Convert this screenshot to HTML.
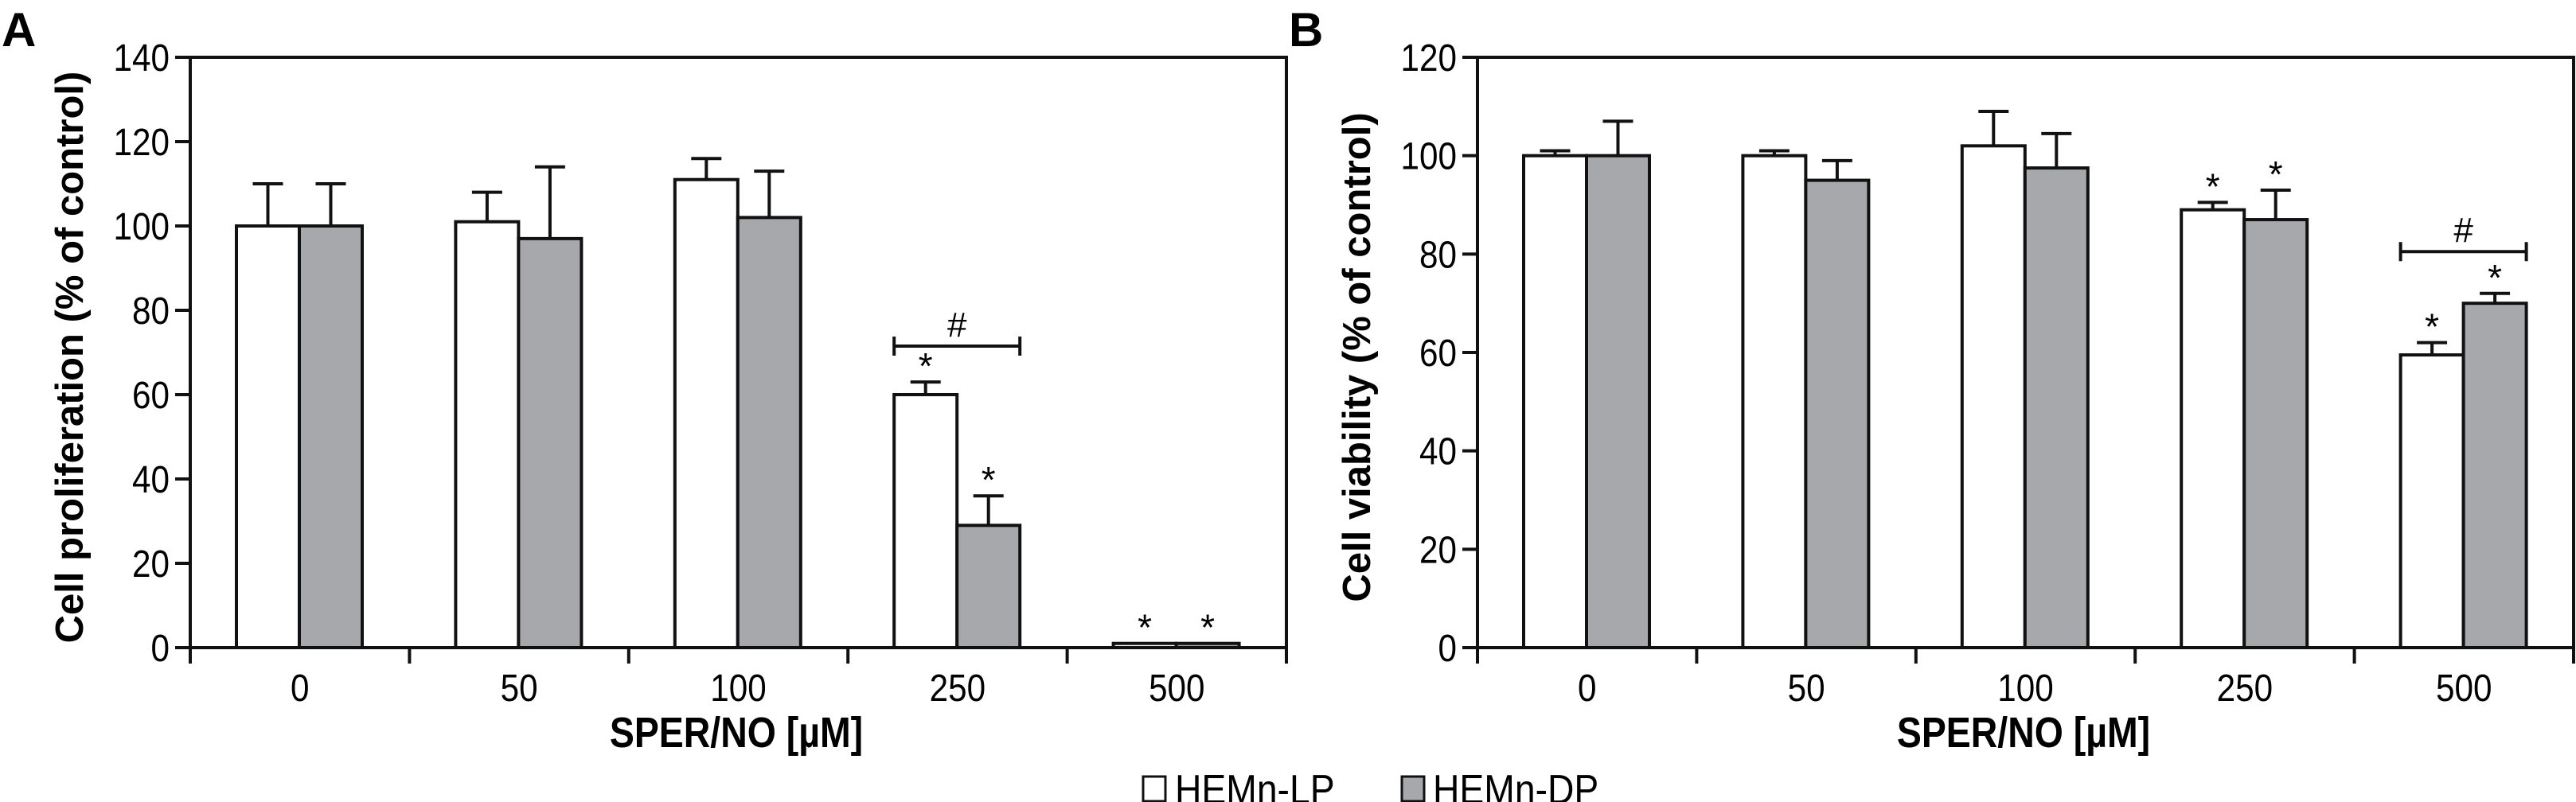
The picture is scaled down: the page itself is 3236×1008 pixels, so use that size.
<!DOCTYPE html>
<html><head><meta charset="utf-8"><style>
html,body{margin:0;padding:0;background:#fff;}
svg{display:block;font-family:"Liberation Sans",sans-serif;}
</style></head><body>
<svg id="fig" width="3236" height="1008" viewBox="0 0 3236 1008" xmlns="http://www.w3.org/2000/svg"></svg>
<script>
const categories = ["0","50","100","250","500"];
const aLP = [100,101,111,60,1];
const aLPerr = [10,7,5,3,0];
const aDP = [100,97,102,29,1];
const aDPerr = [10,17,11,7,0];
const aTicks = [0,20,40,60,80,100,120,140];
const bLP = [100,100,102,89,59.5];
const bLPerr = [1,1,7,1.5,2.5];
const bDP = [100,95,97.5,87,70];
const bDPerr = [7,4,7,6,2];
const bTicks = [0,20,40,60,80,100,120];

const NS="http://www.w3.org/2000/svg";
const svg=document.getElementById('fig');
function mk(tag,attrs,parent){const e=document.createElementNS(NS,tag);for(const k in attrs)e.setAttribute(k,attrs[k]);(parent||svg).appendChild(e);return e;}

function panel(ox,letter,title,LP,LPe,DP,DPe,ticks,ymax,starsLP,starsDP,bracketIdx,bracketVal){
  const g=mk('g',{});
  
  
  const L=ox+239,R=ox+1616,T=72,B=814,cw=(R-L)/categories.length;
  const y=v=>B-(v/ymax)*(B-T);
  const xc=i=>L+i*cw;
  let t=mk('text',{x:ox+2,y:58,'font-size':60,'font-weight':'bold'},g);t.textContent=letter;
  
  
  for(let i=0;i<categories.length;i++){
    const x0=xc(i)+58,w=79;
    [[LP,LPe,'#ffffff',x0,'lp'],[DP,DPe,'#a7a8ab',x0+w,'dp']].forEach(([arr,err,fill,bx,nm])=>{
      const v=arr[i];
      if(err[i]>0){
        const l=mk('line',{x1:bx+w/2,x2:bx+w/2,y1:y(v),y2:y(v+err[i]),stroke:'#111','stroke-width':4},g);
        
        
        const c=mk('line',{x1:bx+w/2-19,x2:bx+w/2+19,y1:y(v+err[i]),y2:y(v+err[i]),stroke:'#111','stroke-width':4},g);
        
        
      }
      const r=mk('rect',{x:bx,y:y(v),width:w,height:B-y(v),fill:fill,stroke:'#111','stroke-width':4},g);
      
      
      const st=(nm=='lp'?starsLP:starsDP);
      if(st.includes(i)){
        const s=mk('text',{x:bx+w/2,y:y(v+err[i])-4,'font-size':46,'text-anchor':'middle'},g);s.textContent='*';
        
        
      }
    });
  }
  const bx1=xc(bracketIdx)+58,bx2=bx1+158,by=y(bracketVal);
  const br=mk('path',{d:`M${bx1} ${by-12}V${by+12}M${bx1} ${by}H${bx2}M${bx2} ${by-12}V${by+12}`,stroke:'#111','stroke-width':4,fill:'none'},g);
  
  
  const h=mk('text',{x:(bx1+bx2)/2,y:by-12,'font-size':44,'text-anchor':'middle'},g);h.textContent='#';
  
  
  const f=mk('path',{d:`M${L} ${T}H${R}V${B}H${L}Z`,stroke:'#111','stroke-width':4,fill:'none'},g);
  
  
  ticks.forEach(v=>{
    const tl=mk('line',{x1:L-19,x2:L,y1:y(v),y2:y(v),stroke:'#111','stroke-width':4},g);
    
    
    const tx=mk('text',{x:L-26,y:y(v)+17,'font-size':48,'text-anchor':'end',transform:`translate(${L-26} 0) scale(0.88 1) translate(${-(L-26)} 0)`},g);tx.textContent=v;
    
    
  });
  for(let i=0;i<=categories.length;i++){
    const tl=mk('line',{x1:xc(i),x2:xc(i),y1:B,y2:B+20,stroke:'#111','stroke-width':4},g);
    
    
  }
  categories.forEach((c,i)=>{
    const cx=xc(i)+cw/2;
    const tx=mk('text',{x:cx,y:881,'font-size':48,'text-anchor':'middle',transform:`translate(${cx} 0) scale(0.88 1) translate(${-cx} 0)`},g);tx.textContent=c;
    
    
  });
  const xt=mk('text',{x:ox+925,y:939,'font-size':54,'font-weight':'bold','text-anchor':'middle',transform:`translate(${ox+925} 0) scale(0.86 1) translate(${-(ox+925)} 0)`},g);xt.textContent='SPER/NO [µM]';
  
  
  const yt=mk('text',{x:0,y:0,'font-size':49,'font-weight':'bold','text-anchor':'middle',transform:`translate(${ox+104} ${(T+B)/2+6}) rotate(-90)`},g);yt.textContent=title;
  
  
}
panel(0,'A','Cell proliferation (% of control)',aLP,aLPerr,aDP,aDPerr,aTicks,140,[3,4],[3,4],3,71.5);
panel(1617,'B','Cell viability (% of control)',bLP,bLPerr,bDP,bDPerr,bTicks,120,[3,4],[3,4],4,80.5);

const lg=mk('g',{});


const e1=mk('g',{},lg);


mk('rect',{x:1436,y:976,width:28,height:31,fill:'#fff',stroke:'#111','stroke-width':3},e1);
let lt=mk('text',{x:1476,y:1010,'font-size':52,transform:'translate(1476 0) scale(0.89 1) translate(-1476 0)'},e1);lt.textContent='HEMn-LP';
const e2=mk('g',{},lg);


mk('rect',{x:1761,y:976,width:28,height:31,fill:'#a7a8ab',stroke:'#111','stroke-width':3},e2);
lt=mk('text',{x:1800,y:1010,'font-size':52,transform:'translate(1800 0) scale(0.89 1) translate(-1800 0)'},e2);lt.textContent='HEMn-DP';
</script>
</body></html>
